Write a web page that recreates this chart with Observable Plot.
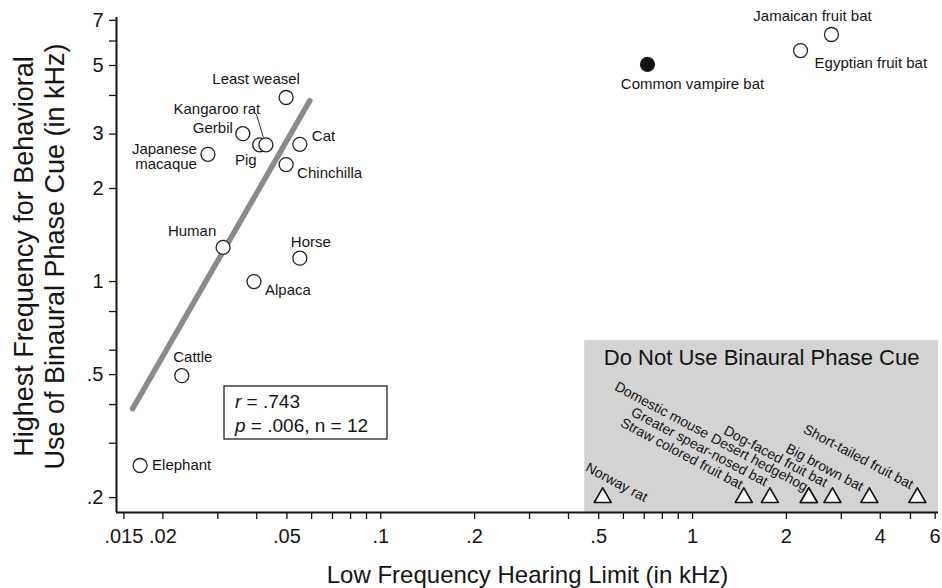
<!DOCTYPE html>
<html><head><meta charset="utf-8">
<script src="https://cdn.jsdelivr.net/npm/d3@7"></script>
<script src="https://cdn.jsdelivr.net/npm/@observablehq/plot@0.6"></script>
<style>
html,body{margin:0;padding:0;background:#fff;}
</style>
</head><body><div id="chart"></div>
<script>
// ---------- data ----------
const useSpecies   = ["Elephant","Cattle","Japanese macaque","Human","Alpaca","Gerbil","Pig","Kangaroo rat","Least weasel","Chinchilla","Cat","Horse"];
const useLowLimit  = [0.0169,0.0230,0.0279,0.0312,0.0392,0.0361,0.0409,0.0428,0.0497,0.0497,0.0550,0.0550];
const useHighPhase = [0.254,0.496,2.58,1.29,1.00,3.01,2.77,2.77,3.94,2.39,2.78,1.19];

const batSpecies   = ["Common vampire bat","Egyptian fruit bat","Jamaican fruit bat"];
const batLowLimit  = [0.717,2.22,2.79];
const batHighPhase = [5.04,5.59,6.30];
const batFilled    = [true,false,false];

const noCueSpecies  = ["Norway rat","Straw colored fruit bat","Greater spear-nosed bat","Domestic mouse","Desert hedgehog","Dog-faced fruit bat","Big brown bat","Short-tailed fruit bat"];
const noCueLowLimit = [0.515,1.46,1.77,2.36,2.36,2.81,3.69,5.26];
const noCueRow      = 0.2;

const fitLowLimit  = [0.0160,0.0592];
const fitHighPhase = [0.388,3.85];

const statR = ".743", statP = ".006", statN = "12";
const regionTitle = "Do Not Use Binaural Phase Cue";
const regionLowLimitMin = 0.451;
const regionHighPhaseMax = 0.644;

const xDomain = [0.0142, 6.15];
const yDomain = [0.179, 7.15];
const xTicks = [0.015,0.02,0.03,0.04,0.05,0.06,0.07,0.08,0.09,0.1,0.2,0.3,0.4,0.5,0.6,0.7,0.8,0.9,1,2,3,4,5,6];
const xTickLabels = [0.015,0.02,0.05,0.1,0.2,0.5,1,2,4,6];
const yTicks = [0.2,0.3,0.4,0.5,0.6,0.8,1,2,3,4,5,6,7];
const yTickLabels = [0.2,0.5,1,2,3,5,7];

const xTitle = "Low Frequency Hearing Limit (in kHz)";
const yTitle1 = "Highest Frequency for Behavioral";
const yTitle2 = "Use of Binaural Phase Cue (in kHz)";

// ---------- layout (label placement: anchor, dx, dy) ----------
const labelPlacement = {
  "Elephant": ["start", 12, 0],
  "Cattle": ["middle", 11, -18],
  "Japanese macaque": ["end", -11, 2],
  "Human": ["middle", -31, -16],
  "Alpaca": ["start", 11, 9],
  "Gerbil": ["end", -10, -5],
  "Pig": ["middle", -14, 15],
  "Kangaroo rat": ["middle", -49, -36],
  "Least weasel": ["middle", -30, -18],
  "Chinchilla": ["start", 11, 9],
  "Cat": ["start", 12, -8],
  "Horse": ["middle", 11, -16],
  "Common vampire bat": ["middle", 45, 20],
  "Egyptian fruit bat": ["start", 14, 13],
  "Jamaican fruit bat": ["middle", -19, -18]
};
const rotatedPlacement = {
  "Norway rat": ["start", -16, -31],
  "Straw colored fruit bat": ["end", -2, -12],
  "Greater spear-nosed bat": ["end", -3, -15],
  "Domestic mouse": ["end", -101, -63],
  "Desert hedgehog": ["end", -2, -10],
  "Dog-faced fruit bat": ["end", -6, -14],
  "Big brown bat": ["end", -7, -10],
  "Short-tailed fruit bat": ["end", -5, -12]
};

// ---------- build tables ----------
const useRows = useSpecies.map((name,i)=>({name, x:useLowLimit[i], y:useHighPhase[i]}));
const batRows = batSpecies.map((name,i)=>({name, x:batLowLimit[i], y:batHighPhase[i], filled:batFilled[i]}));
const noCueRows = noCueSpecies.map((name,i)=>({name, x:noCueLowLimit[i], y:noCueRow}));
const fitRows = fitLowLimit.map((x,i)=>({x, y:fitHighPhase[i]}));
const region = [{x1:regionLowLimitMin, x2:xDomain[1], y1:yDomain[0], y2:regionHighPhaseMax}];

const fmt = d => { const s = String(d); return s.startsWith("0.") ? s.slice(1) : s; };
const FONT = "Liberation Sans, Arial, Helvetica, sans-serif";
const INK = "#151515";

const pointLabels = [...useRows, ...batRows].map(d => {
  const [anchor, dx, dy] = labelPlacement[d.name];
  return Plot.text([d], {x:"x", y:"y", text: r => r.name === "Japanese macaque" ? "Japanese\nmacaque" : r.name,
    textAnchor: anchor, dx, dy, fontSize: 15, lineHeight: 1.0, fill: INK});
});
const rotatedLabels = noCueRows.map(d => {
  const [anchor, dx, dy] = rotatedPlacement[d.name];
  return Plot.text([d], {x:"x", y:"y", text:"name", textAnchor: anchor, dx, dy, rotate: 28, fontSize: 14, fill: INK});
});

// leader line for Kangaroo rat, drawn through the scales
const leader = (index, scales, values, dim) => {
  const k = useRows.find(d => d.name === "Kangaroo rat");
  const px = scales.x(k.x), py = scales.y(k.y);
  const g = d3.create("svg:g");
  g.append("line").attr("x1", px-9).attr("y1", py-30).attr("x2", px-2).attr("y2", py-7)
    .attr("stroke", "#333").attr("stroke-width", 1);
  return g.node();
};

// statistics box, positioned relative to the frame
const statsBox = (index, scales, values, dim) => {
  const g = d3.create("svg:g").attr("font-family", FONT).attr("fill", INK).attr("font-size", 19)
    .attr("text-anchor", "start");
  const x0 = dim.marginLeft + 108;
  const y0 = dim.height - dim.marginBottom - 126;
  g.append("rect").attr("x", x0).attr("y", y0).attr("width", 163).attr("height", 53)
    .attr("fill", "white").attr("stroke", "#222").attr("stroke-width", 1.3);
  const t1 = g.append("text").attr("x", x0+11).attr("y", y0+22);
  t1.append("tspan").attr("font-style", "italic").text("r");
  t1.append("tspan").text(" = " + statR);
  const t2 = g.append("text").attr("x", x0+11).attr("y", y0+46);
  t2.append("tspan").attr("font-style", "italic").text("p");
  t2.append("tspan").text(" = " + statP + ", n = " + statN);
  return g.node();
};

const chart = Plot.plot({
  width: 942,
  height: 588,
  marginLeft: 116,
  marginRight: 4,
  marginTop: 17,
  marginBottom: 76,
  style: {fontFamily: FONT, background: "white", color: INK, overflow: "visible"},
  x: {type: "log", domain: xDomain},
  y: {type: "log", domain: yDomain},
  marks: [
    Plot.rect(region, {x1:"x1", x2:"x2", y1:"y1", y2:"y2", fill: "#d3d3d3"}),
    Plot.text([regionTitle], {x: () => Math.sqrt(region[0].x1 * region[0].x2), y: () => region[0].y2,
      text: d => d, dy: 17, fontSize: 22, fill: INK}),
    Plot.line(fitRows, {x:"x", y:"y", stroke: "#8b8b8b", strokeWidth: 5.5}),
    // tick marks
    Plot.axisX({ticks: xTicks, tickFormat: () => "", tickSize: 7, label: null, stroke: INK, strokeWidth: 1.3}),
    Plot.axisY({ticks: yTicks, tickFormat: () => "", tickSize: 7, label: null, stroke: INK, strokeWidth: 1.3}),
    // tick labels
    Plot.text(xTickLabels, {x: d => d, frameAnchor: "bottom", dy: 16, lineAnchor: "top", text: fmt, fontSize: 20, fill: INK}),
    Plot.text(yTickLabels, {y: d => d, frameAnchor: "left", dx: -13, textAnchor: "end", text: fmt, fontSize: 20, fill: INK}),
    // axis lines
    Plot.ruleX([xDomain[0]], {stroke: INK, strokeWidth: 2}),
    Plot.ruleY([yDomain[0]], {stroke: INK, strokeWidth: 2}),
    leader,
    Plot.dot(useRows, {x:"x", y:"y", r: 7, fill: "white", stroke: "#222", strokeWidth: 1.3}),
    Plot.dot(batRows, {x:"x", y:"y", r: 7, fill: d => d.filled ? "#111" : "white", stroke: "#222", strokeWidth: 1.3}),
    Plot.dot(noCueRows, {x:"x", y:"y", symbol: "triangle", r: 6.3, fill: "white", stroke: "#111", strokeWidth: 1.6, strokeLinejoin: "round"}),
    ...pointLabels,
    ...rotatedLabels,
    statsBox,
    Plot.text([xTitle], {frameAnchor: "bottom", text: d => d, dy: 70, lineAnchor: "bottom", fontSize: 24, fill: INK}),
    Plot.text([yTitle1], {frameAnchor: "left", text: d => d, dx: -84, dy: -8.5, rotate: -90, textAnchor: "middle", lineAnchor: "bottom", fontSize: 27, fill: INK}),
    Plot.text([yTitle2], {frameAnchor: "left", text: d => d, dx: -53, dy: -8.5, rotate: -90, textAnchor: "middle", lineAnchor: "bottom", fontSize: 27, fill: INK})
  ]
});
document.getElementById("chart").append(chart);
</script>
</body></html>
